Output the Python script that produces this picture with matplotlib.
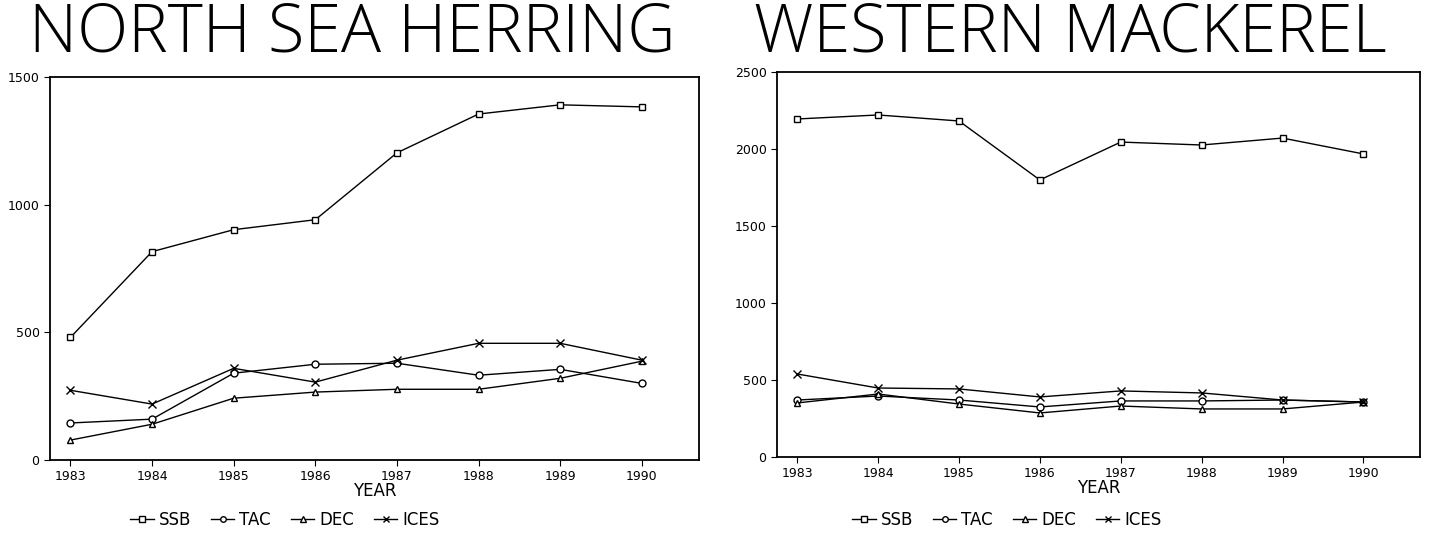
import numpy as np
import matplotlib
matplotlib.use('Agg')
import matplotlib.pyplot as plt

years = [1983, 1984, 1985, 1986, 1987, 1988, 1989, 1990]

# north sea herring
her_ssb = [480, 816, 902, 941, 1203, 1355, 1391, 1383]
her_tac = [145, 160, 340, 375, 379, 332, 355, 300]
her_dec = [78, 140, 242, 266, 277, 277, 320, 387]
her_ices = [273, 219, 359, 305, 391, 457, 457, 391]

# western mackerel
mac_ssb = [2195, 2221, 2182, 1799, 2045, 2026, 2071, 1968]
mac_tac = [370, 396, 370, 325, 364, 364, 370, 357]
mac_dec = [351, 409, 344, 286, 331, 312, 312, 357]
mac_ices = [539, 448, 442, 390, 429, 416, 370, 357]

names = ['SSB', 'TAC', 'DEC', 'ICES']
markers = ['s', 'o', '^', 'x']

fig = plt.figure(figsize=(14.38, 5.34), dpi=100)
W, H = 1438, 534

def make_ax(x0, x1, y0, y1):
    return fig.add_axes([x0 / W, 1 - y1 / H, (x1 - x0) / W, (y1 - y0) / H])

ax1 = make_ax(50, 699, 77, 460)
ax2 = make_ax(777, 1420, 72, 457)

def draw(ax, series, ymax, title, tx, legx):
    for vals, m, n in zip(series, markers, names):
        ax.plot(years, vals, color='black', lw=1.0, marker=m, ms=5 if m != 'x' else 6,
                mfc='white', mec='black', mew=1.0, label=n)
    ax.set_xlim(1982.75, 1990.7)
    ax.set_ylim(0, ymax)
    ax.set_yticks(np.arange(0, ymax + 1, 500))
    ax.set_xticks(years)
    ax.tick_params(axis='both', labelsize=9, length=4, width=0.8, direction='out')
    ax.set_xlabel('YEAR', fontsize=12, labelpad=-1)
    for s in ax.spines.values():
        s.set_linewidth(1.3)
    ax.legend(loc='center', bbox_to_anchor=(legx / W, 1 - 520 / H),
              bbox_transform=fig.transFigure, ncol=4, frameon=False,
              fontsize=12, handlelength=1.4, handletextpad=0.3, columnspacing=1.2,
              markerscale=0.8)
    fig.text(tx / W, 1 - 51 / H, title, ha='center', va='baseline', fontsize=48,
             family=['Open Sans', 'DejaVu Sans'], fontweight='light')

draw(ax1, [her_ssb, her_tac, her_dec, her_ices], 1500, 'NORTH SEA HERRING', 352, 285)
draw(ax2, [mac_ssb, mac_tac, mac_dec, mac_ices], 2500, 'WESTERN MACKEREL', 1070, 1007)

fig.savefig('out.png', dpi=100)
